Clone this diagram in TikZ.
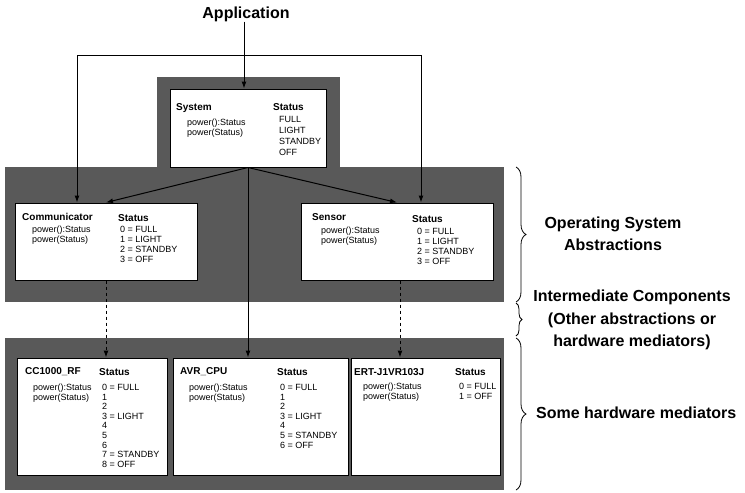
\documentclass[tikz,border=0pt]{standalone}
\usepackage{fontspec}
\setmainfont{Liberation Sans}
\usetikzlibrary{arrows.meta, decorations.pathreplacing}

\begin{document}
\begin{tikzpicture}[x=1pt, y=-1pt,
	band/.style={fill=black!65, draw=none},
	obj/.style={rectangle, draw=black, fill=white, line width=1pt, inner sep=0pt},
	cls/.style={font=\fontsize{10}{11}\selectfont\bfseries, inner sep=0pt, anchor=west},
	lst/.style={font=\fontsize{9}{10}\selectfont, inner sep=0pt, anchor=north west, align=left},
	lbl/.style={font=\fontsize{16}{22.5}\selectfont\bfseries, align=center, inner sep=0pt},
	arr/.style={-{Latex[length=7pt,width=5pt]}, line width=1pt},
	dsh/.style={arr, dash pattern=on 3pt off 3pt},
	brc/.style={decorate, decoration={brace, amplitude=#1}, line width=0.8pt},
	brc/.default=10pt
	]
\useasboundingbox (0,0) rectangle (745,493);

% shaded layers
\fill[band] (157,77) rectangle (340,168);
\fill[band] (5,167) rectangle (504,302);
\fill[band] (5,338) rectangle (504,490);

% components
\node[obj, minimum width=156pt, minimum height=78pt] (sys) at (248,128) {};
\node[obj, minimum width=182pt, minimum height=77pt] (comm) at (106,241.5) {};
\node[obj, minimum width=192pt, minimum height=77pt] (sens) at (397,241.5) {};
\node[obj, minimum width=150pt, minimum height=117pt] (cc) at (92,416.5) {};
\node[obj, minimum width=175pt, minimum height=117pt] (avr) at (260.5,416.5) {};
\node[obj, minimum width=149pt, minimum height=117pt] (ert) at (425.5,416.5) {};

\node[cls] (sysN) at (176,108) {System};
\node[cls] (sysS) at (273,107) {Status};
\node[lst] (sysM) at (187,119) {power():Status\\power(Status)};
\node[lst, font=\fontsize{9}{11}\selectfont] (sysV) at (279,116) {FULL\\LIGHT\\STANDBY\\OFF};

\node[cls] (commN) at (22,217) {Communicator};
\node[cls] (commS) at (118,218) {Status};
\node[lst] (commM) at (32,226) {power():Status\\power(Status)};
\node[lst] (commV) at (120,226) {0 = FULL\\1 = LIGHT\\2 = STANDBY\\3 = OFF};

\node[cls] (sensN) at (312,217) {Sensor};
\node[cls] (sensS) at (412,219) {Status};
\node[lst] (sensM) at (321,227) {power():Status\\power(Status)};
\node[lst] (sensV) at (417,228) {0 = FULL\\1 = LIGHT\\2 = STANDBY\\3 = OFF};

\node[cls] (ccN) at (25,372) {CC1000\_RF};
\node[cls] (ccS) at (99,372) {Status};
\node[lst] (ccM) at (33,384) {power():Status\\power(Status)};
\node[lst, font=\fontsize{9}{9.6}\selectfont] (ccV) at (102,384)
	{0 = FULL\\1\\2\\3 = LIGHT\\4\\5\\6\\7 = STANDBY\\8 = OFF};

\node[cls] (avrN) at (180,372) {AVR\_CPU};
\node[cls] (avrS) at (277,372) {Status};
\node[lst] (avrM) at (189,384) {power():Status\\power(Status)};
\node[lst, font=\fontsize{9}{9.6}\selectfont] (avrV) at (280,384)
	{0 = FULL\\1\\2\\3 = LIGHT\\4\\5 = STANDBY\\6 = OFF};

\node[cls] (ertN) at (354,372) {ERT-J1VR103J};
\node[cls] (ertS) at (455,372) {Status};
\node[lst] (ertM) at (363,383) {power():Status\\power(Status)};
\node[lst] (ertV) at (459,383) {0 = FULL\\1 = OFF};

% application and links
\node[lbl] (app) at (246,14) {Application};
\coordinate (split) at (244,55);
\coordinate (lt) at (77,55);
\coordinate (rt) at (421,55);
\draw[arr] (app.south -| split) -- (split |- sys.north);
\draw[arr] (split) -- (lt) -- (lt |- comm.north);
\draw[arr] (split) -- (rt) -- (rt |- sens.north);

\draw[arr] (sys.south) -- (comm.north);
\draw[arr] (sys.south) -- (sens.north);
\draw[arr] (sys.south) -- (sys.south |- avr.north);
\draw[dsh] (comm.south) -- (comm.south |- cc.north);
\draw[dsh] ([xshift=3pt]sens.south) -- ([xshift=3pt]sens.south |- ert.north);

% layers on the right
\coordinate (osT) at (516,167);
\coordinate (osB) at (516,302);
\coordinate (imB) at (516,336);
\coordinate (hwT) at (516,338);
\coordinate (hwB) at (516,490);
\draw[brc] (osT) -- (osB);
\draw[brc=6pt] ([yshift=-1pt]osB) -- (imB);
\draw[brc] (hwT) -- (hwB);

\node[lbl] (osL) at (613,234) {Operating System\\Abstractions};
\node[lbl] (imL) at (632,320) {Intermediate Components\\(Other abstractions or\\hardware mediators)};
\node[lbl, anchor=west] (hwL) at (536,413) {Some hardware mediators};
\end{tikzpicture}
\end{document}
